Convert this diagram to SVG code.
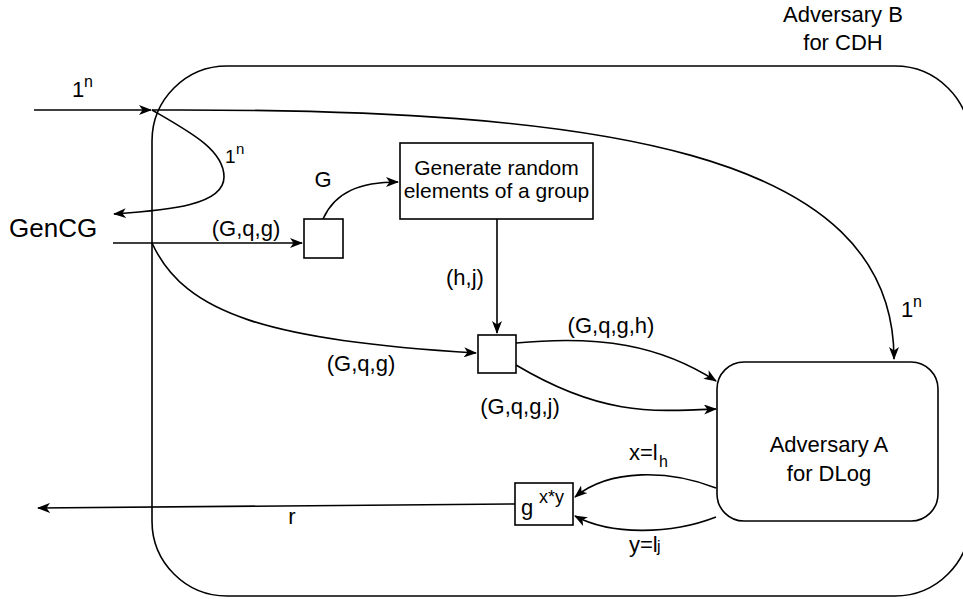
<svg xmlns="http://www.w3.org/2000/svg" width="963" height="599" viewBox="0 0 963 599">
<defs>
<marker id="ah" viewBox="0 0 13 10" refX="12" refY="5" markerWidth="13" markerHeight="10" markerUnits="userSpaceOnUse" orient="auto">
<path d="M0,0 L13,5 L0,10 L3.5,5 Z" fill="#000"/>
</marker>
<style>
text{font-family:"Liberation Sans",Arial,sans-serif;fill:#000}
.t{font-size:22px}
.s{font-size:16px}
.c{fill:none;stroke:#000;stroke-width:1.6}
.n{fill:#fff;stroke:#000;stroke-width:1.6}
</style>
</defs>
<rect width="963" height="599" fill="#fff"/>
<g id="adversaryB">
<rect x="152" y="66" width="818" height="530" rx="75" ry="75" class="n"/>
<text class="t" x="843" y="22" text-anchor="middle">Adversary B</text>
<text class="t" x="843" y="50" text-anchor="middle">for CDH</text>
</g>
<g id="connectors">
<path class="c" d="M34,110 L151,110" marker-end="url(#ah)"/>
<path class="c" d="M152,110 C600,108 894,150 894,359" marker-end="url(#ah)"/>
<path class="c" d="M152,110 C190,132 224,150 224,177 C224,205 170,210 114,214" marker-end="url(#ah)"/>
<path class="c" d="M113,243 L302,243" marker-end="url(#ah)"/>
<path class="c" d="M323,219 C335,192 360,182 398,182" marker-end="url(#ah)"/>
<path class="c" d="M497,219 L497,333" marker-end="url(#ah)"/>
<path class="c" d="M152,243 C185,315 270,340 476,353" marker-end="url(#ah)"/>
<path class="c" d="M516,343 C600,335 660,345 716,381" marker-end="url(#ah)"/>
<path class="c" d="M516,365 C600,415 650,412 716,409" marker-end="url(#ah)"/>
<path class="c" d="M716,488 C670,470 610,468 575,497" marker-end="url(#ah)"/>
<path class="c" d="M716,517 C670,535 610,535 575,516" marker-end="url(#ah)"/>
<path class="c" d="M515,504 L38,508" marker-end="url(#ah)"/>
</g>
<g id="labels">
<text class="t" x="72" y="97">1</text><text class="s" x="84" y="87">n</text>
<text style="font-size:19px" x="225" y="163">1</text><text style="font-size:15px" x="236" y="154">n</text>
<text x="9" y="237" style="font-size:26px">GenCG</text>
<text class="t" x="246" y="236" text-anchor="middle">(G,q,g)</text>
<text class="t" x="323" y="187" text-anchor="middle">G</text>
<text class="t" x="465" y="285" text-anchor="middle">(h,j)</text>
<text class="t" x="361" y="371" text-anchor="middle">(G,q,g)</text>
<text class="t" x="611" y="333" text-anchor="middle">(G,q,g,h)</text>
<text class="t" x="520" y="414" text-anchor="middle">(G,q,g,j)</text>
<text class="t" x="901" y="317">1</text><text class="s" x="913" y="307">n</text>
<text class="t" x="629" y="460">x=l</text><text class="s" x="659" y="467">h</text>
<text class="t" x="629" y="552">y=l</text><text class="s" x="657" y="552">j</text>
<text class="t" x="292" y="524" text-anchor="middle">r</text>
</g>
<g id="genRandom">
<rect x="400" y="143" width="193" height="76" class="n"/>
<text class="t" x="496.5" y="175" text-anchor="middle" style="font-size:21px">Generate random</text>
<text class="t" x="496.5" y="198" text-anchor="middle" style="font-size:21px">elements of a group</text>
</g>
<g id="box1"><rect x="304" y="219" width="39" height="39" class="n"/></g>
<g id="box2"><rect x="478" y="335" width="38" height="38" class="n"/></g>
<g id="adversaryA">
<rect x="717" y="362" width="221" height="159" rx="27" ry="27" class="n"/>
<text class="t" x="829" y="452" text-anchor="middle">Adversary A</text>
<text class="t" x="829" y="481" text-anchor="middle">for DLog</text>
</g>
<g id="gxy">
<rect x="515" y="483" width="58" height="42" class="n"/>
<text class="t" x="521" y="515">g</text>
<text x="539" y="503" style="font-size:18px">x*y</text>
</g>
</svg>
